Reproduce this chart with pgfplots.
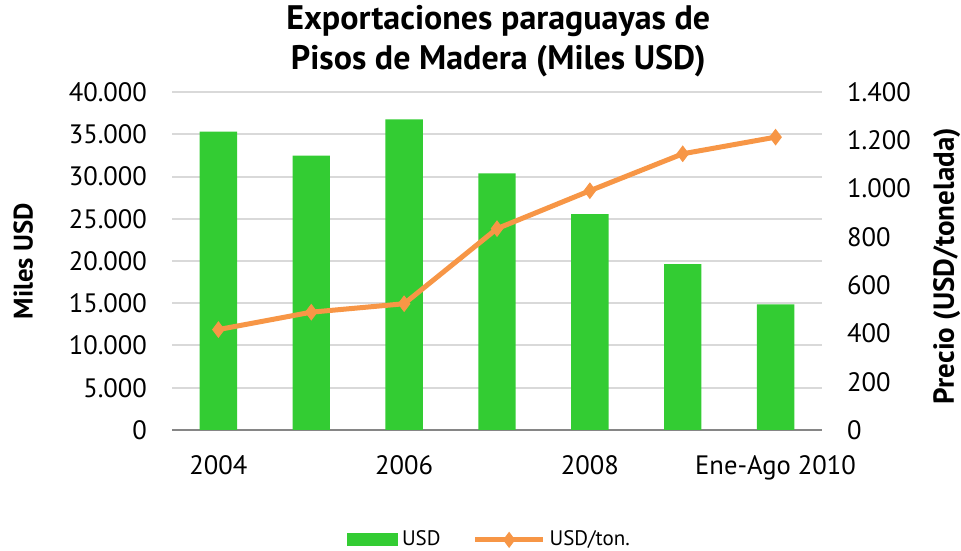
\documentclass[border=0pt]{standalone}
\usepackage{pgfplots}
\pgfplotsset{compat=1.18}
\usepackage{fontspec}
\setmainfont{PT Sans}
\definecolor{barGreen}{HTML}{33CC33}
\definecolor{lineOrange}{HTML}{F79646}
\definecolor{gridGray}{HTML}{D9D9D9}
\definecolor{axGray}{HTML}{868686}
\begin{document}
\begin{tikzpicture}
\useasboundingbox (0,0) rectangle (480.5pt,275pt);
\begin{axis}[
  at={(86pt,60pt)}, anchor=south west,
  scale only axis, width=325pt, height=169pt,
  xmin=0, xmax=7, ymin=0, ymax=40000,
  axis y line*=left, axis x line*=bottom,
  y axis line style={draw=none},
  x axis line style={axGray, line width=0.8pt},
  xtick={0.5,1.5,...,6.5},
  xticklabels={2004,,2006,,2008,,Ene-Ago 2010},
  x tick label style={yshift=-9pt, font=\fontsize{13.3}{15}\selectfont},
  major x tick style={draw=none},
  extra x ticks={0,1,...,7}, extra x tick labels={},
  extra x tick style={tick style={axGray, line width=0.8pt}, major tick length=4pt, tickwidth=4pt},
  ytick={0,5000,...,40000},
  major y tick style={draw=none},
  ymajorgrids, y grid style={gridGray, line width=1pt},
  y tick label style={font=\fontsize{13.3}{15}\selectfont, xshift=-9pt},
  /pgf/number format/.cd, use comma, 1000 sep={.}, assume math mode=true,
  /pgfplots/.cd,
  scaled y ticks=false,
  ylabel={\bfseries Miles USD},
  ylabel style={at={(axis description cs:-0.229,0.5)}, anchor=center, font=\fontsize{13.4}{15}\selectfont},
  clip=false,
]
\addplot[ybar, bar width=18.7pt, fill=barGreen, draw=none, bar shift=0pt] coordinates {
  (0.5,35300) (1.5,32460) (2.5,36750) (3.5,30360) (4.5,25560) (5.5,19640) (6.5,14880)};
\node[align=center, font=\bfseries\fontsize{17}{20}\selectfont] at (axis description cs:0.502,1.151)
  {Exportaciones paraguayas de\\Pisos de Madera (Miles USD)};
\end{axis}
\begin{axis}[
  at={(86pt,60pt)}, anchor=south west,
  scale only axis, width=325pt, height=169pt,
  xmin=0, xmax=7, ymin=0, ymax=1400,
  axis x line=none, axis y line*=right,
  y axis line style={draw=none},
  ytick={0,200,...,1400},
  major y tick style={draw=none},
  y tick label style={font=\fontsize{13.3}{15}\selectfont, xshift=9pt},
  /pgf/number format/.cd, use comma, 1000 sep={.}, assume math mode=true,
  /pgfplots/.cd,
  ylabel={\bfseries Precio (USD/tonelada)},
  ylabel style={at={(axis description cs:1.192,0.485)}, anchor=center, font=\fontsize{14.5}{16}\selectfont},
  legend style={at={(axis description cs:0.49,-0.325)}, anchor=center, draw=none, legend columns=2,
    font=\fontsize{10.5}{12}\selectfont, /tikz/every even column/.append style={column sep=14pt}},
  clip=false,
]
\addlegendimage{legend image code/.code={\fill[barGreen] (0pt,-3pt) rectangle (25pt,3pt);}}
\addlegendentry{USD}
\addplot[lineOrange, line width=2.5pt, mark=diamond*, mark size=3.8pt, mark options={fill=lineOrange, draw=lineOrange, line width=0.5pt},
  legend image code/.code={\draw[lineOrange, line width=2.5pt] (0pt,0pt) -- (34pt,0pt);
    \fill[lineOrange] (17pt,2pt) -- (18.5pt,0pt) -- (17pt,-2pt) -- (15.5pt,0pt) -- cycle;}] coordinates {
  (0.5,416) (1.5,488) (2.5,523) (3.5,834) (4.5,991) (5.5,1144) (6.5,1213)};
\addlegendentry{USD/ton.}
\end{axis}
\end{tikzpicture}
\end{document}
